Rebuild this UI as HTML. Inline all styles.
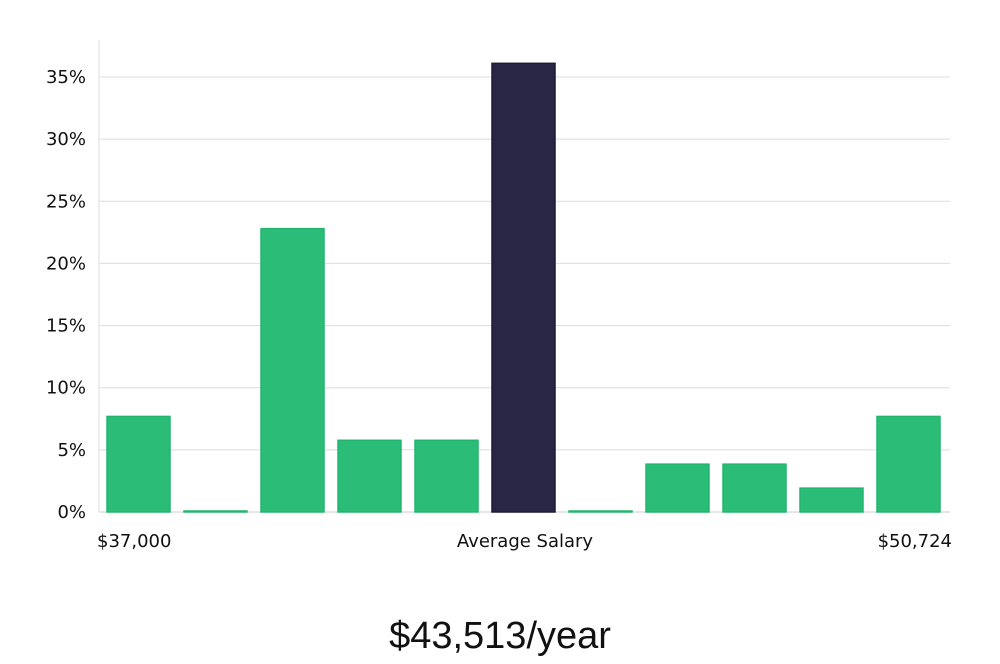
<!DOCTYPE html>
<html><head><meta charset="utf-8"><style>
body{margin:0;background:#fff;width:1000px;height:660px;overflow:hidden;font-family:"DejaVu Sans","Liberation Sans",sans-serif}
svg text{fill:#111}
</style></head><body>
<svg id="chart" width="1000" height="660" xmlns="http://www.w3.org/2000/svg">
<g id="grid"></g>
<g id="yticks"></g>
<g id="bars"></g>
<text x="97" y="547" font-size="18">$37,000</text>
<text x="525" y="547" font-size="18" text-anchor="middle">Average Salary</text>
<text x="952" y="547" font-size="18" text-anchor="end">$50,724</text>
<text x="500" y="648" font-size="38" text-anchor="middle" font-family="Liberation Sans, sans-serif" style="font-weight:300">$43,513/year</text>
</svg>
<script>
const values=[7.69,0,22.8,5.77,5.77,36.1,0,3.85,3.85,1.92,7.69];
const highlight=[false,false,false,false,false,true,false,false,false,false,false];
const yTicks=[0,5,10,15,20,25,30,35];
const ns="http://www.w3.org/2000/svg";
const x0=99,x1=950,yBase=512,pxPerPct=(512-77)/35;
const y=v=>yBase-v*pxPerPct;
const slot=(x1-x0-4)/values.length;
const grid=document.getElementById('grid'),yt=document.getElementById('yticks'),bars=document.getElementById('bars');
const ax=document.createElementNS(ns,'line');
ax.setAttribute('x1',x0);ax.setAttribute('x2',x0);ax.setAttribute('y1',40);ax.setAttribute('y2',yBase);ax.setAttribute('stroke','#ddd');


grid.appendChild(ax);
yTicks.forEach(t=>{
 const l=document.createElementNS(ns,'line');
 l.setAttribute('x1',x0);l.setAttribute('x2',x1);l.setAttribute('y1',y(t));l.setAttribute('y2',y(t));
 l.setAttribute('stroke',t===0?'#ccc':'#ddd');
 
 
 grid.appendChild(l);
 const tx=document.createElementNS(ns,'text');
 tx.setAttribute('x',86);tx.setAttribute('y',y(t)+6);tx.setAttribute('text-anchor','end');tx.setAttribute('font-size','18');
 tx.textContent=t+'%';
 
 
 yt.appendChild(tx);
});
values.forEach((v,i)=>{
 const r=document.createElementNS(ns,'rect');
 const bx=x0+8+i*slot, w=slot-14;
 const h=Math.max(v*pxPerPct,1);
 r.setAttribute('x',bx);r.setAttribute('y',yBase-h);r.setAttribute('width',w);r.setAttribute('height',h);
 r.setAttribute('fill',highlight[i]?'#292645':'#2bbd77');
 r.setAttribute('stroke',highlight[i]?'#1c1a38':'#22b56e');r.setAttribute('stroke-width','1.5');
 
 
 bars.appendChild(r);
});
</script>
</body></html>
